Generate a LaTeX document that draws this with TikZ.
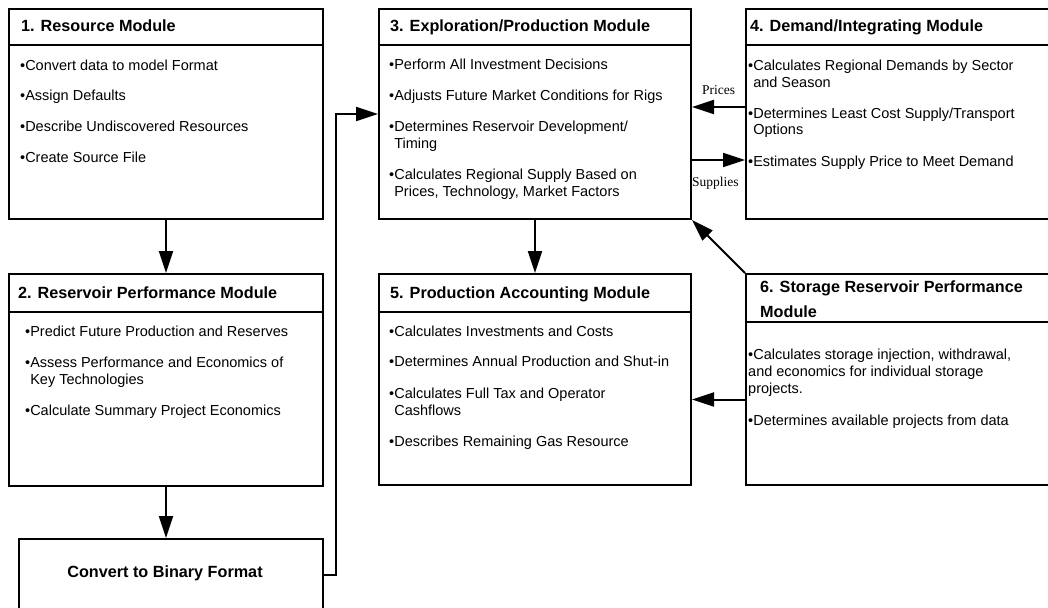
\documentclass[tikz,border=0pt]{standalone}
\usepackage{fontspec}
\setmainfont{Liberation Sans}
\newfontfamily\serifFont{Liberation Serif}
\usetikzlibrary{arrows.meta}
\newcommand{\modBox}[6]{%%
  %% Draw the frame of the module.
  \node[boxStyle,minimum width=#4pt,minimum height=#5pt] (#1) at (#2,#3) {};
  %% Draw the rule under the heading.
  \draw[lineStyle] ([yshift=-#6pt]#1.north west) -- ([yshift=-#6pt]#1.north east);
}
%% Note: the y of a heading or item is the baseline of its last line.
\newcommand{\modHead}[4]{%%
  \node[headStyle] (#1) at (#2,#3) {#4};
}
\newcommand{\modItem}[4]{%%
  \node[itemStyle] (#1) at (#2,#3) {\textbullet#4};
}
\newcommand{\nl}{\\\hphantom{\textbullet}}

\begin{document}
\begin{tikzpicture}[%%
  x=1pt,y=-1pt,%%
  lineStyle/.style={-,line width=2pt},%%
  boxStyle/.style={draw,line width=2pt,anchor=north west,inner sep=0pt},%%
  headStyle/.style={anchor=base west,inner sep=0pt,align=left,%%
    font=\fontsize{16.2}{24.6}\selectfont\bfseries},%%
  itemStyle/.style={anchor=base west,inner sep=0pt,align=left,%%
    font=\fontsize{14.5}{16.8}\selectfont},%%
  flowLabel/.style={anchor=base west,inner sep=0pt,%%
    font=\serifFont\fontsize{13.5}{16}\selectfont},%%
  arrowStyle/.style={line width=2pt,-{Triangle[length=22pt,width=14pt]}}
]
\useasboundingbox (0,0) rectangle (1048,607);
%%
%% Left column: resource and reservoir modules.
\modBox{box1}{8}{8}{314}{210}{37}
\modHead{h1}{21}{32}{1. Resource Module}
\modItem{i1a}{20}{70.5}{Convert data to model Format}
\modItem{i1b}{20}{101}{Assign Defaults}
\modItem{i1c}{20}{131.5}{Describe Undiscovered Resources}
\modItem{i1d}{20}{162}{Create Source File}
%%
\modBox{box2}{8}{273}{314}{212}{39}
\modHead{h2}{18}{298}{2. Reservoir Performance Module}
\modItem{i2a}{25}{336.7}{Predict Future Production and Reserves}
\modItem{i2b}{25}{384}{Assess Performance and Economics of\nl Key Technologies}
\modItem{i2c}{25}{415}{Calculate Summary Project Economics}
%%
\node[boxStyle,minimum width=304pt,minimum height=72pt] (conv) at (18,538) {};
\node[headStyle,anchor=base] (convTxt) at (165,577) {Convert to Binary Format};
%%
%% Middle column.
\modBox{box3}{378}{8}{312}{210}{37}
\modHead{h3}{390}{32}{3. Exploration/Production Module}
\modItem{i3a}{389}{70}{Perform All Investment Decisions}
\modItem{i3b}{389}{100.5}{Adjusts Future Market Conditions for Rigs}
\modItem{i3c}{389}{148.5}{Determines Reservoir Development/\nl Timing}
\modItem{i3d}{389}{196.5}{Calculates Regional Supply Based on\nl Prices, Technology, Market Factors}
%%
\modBox{box5}{378}{273}{312}{211}{39}
\modHead{h5}{390}{298}{5. Production Accounting Module}
\modItem{i5a}{389}{336.7}{Calculates Investments and Costs}
\modItem{i5b}{389}{366.7}{Determines Annual Production and Shut-in}
\modItem{i5c}{389}{415}{Calculates Full Tax and Operator\nl Cashflows}
\modItem{i5d}{389}{446.7}{Describes Remaining Gas Resource}
%%
%% Right column.
\modBox{box4}{745}{8}{310}{210}{37}
\modHead{h4}{750}{32}{4. Demand/Integrating Module}
\modItem{i4a}{748}{87.5}{Calculates Regional Demands by Sector\nl and Season}
\modItem{i4b}{748}{135}{Determines Least Cost Supply/Transport\nl Options}
\modItem{i4c}{748}{166.5}{Estimates Supply Price to Meet Demand}
%%
\modBox{box6}{745}{273}{310}{211}{49}
\modHead{h6}{760}{317.3}{6. Storage Reservoir Performance\\Module}
\modItem{i6a}{748}{393.3}{Calculates storage injection, withdrawal,\\and economics for individual storage\\projects.}
\modItem{i6b}{748}{425}{Determines available projects from data}
%%
%% Flow between the modules.
\draw[arrowStyle] (box1.south) -- (box2.north);
\draw[arrowStyle] (box2.south) -- (box2.south |- conv.north);
\draw[arrowStyle] (conv.east) -- ++(12,0) |- (box3.west);
\draw[arrowStyle] ([yshift=7pt]box4.west) -- ([yshift=7pt]box3.east);
\draw[arrowStyle] ([yshift=-46pt]box3.east) -- ([yshift=-46pt]box4.west);
\draw[arrowStyle] (box3.south) -- (box5.north);
\draw[arrowStyle] ([yshift=-20pt]box6.west) -- ([yshift=-20pt]box5.east);
\draw[arrowStyle] (box6.north west) -- (box3.south east);
\node[flowLabel] (prices) at (702,95) {Prices};
\node[flowLabel] (supplies) at (692,186) {Supplies};
\end{tikzpicture}
\end{document}
